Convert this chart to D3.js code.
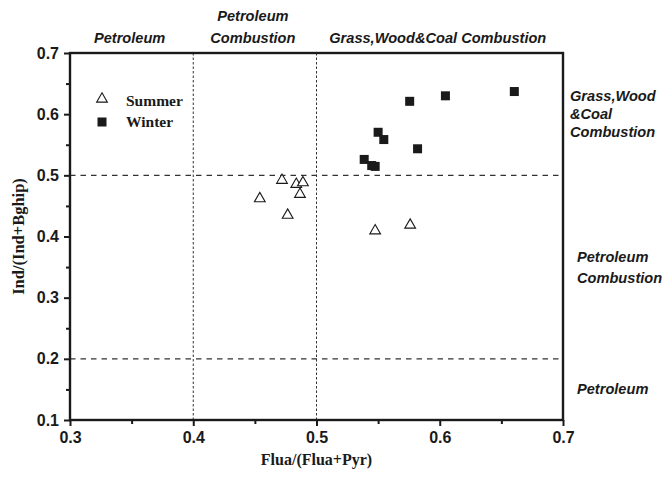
<!DOCTYPE html>
<html>
<head>
<meta charset="utf-8">
<script src="https://cdn.jsdelivr.net/npm/d3@7"></script>
<style>
  body { margin: 0; background: #fff; }
  svg { display: block; }
</style>
</head>
<body>
<svg id="chart"></svg>
<script>
// values
const summerX = [0.454, 0.472, 0.4766, 0.4836, 0.489, 0.4866, 0.5476, 0.576]
const summerY = [0.462, 0.492, 0.435, 0.4854, 0.488, 0.469, 0.4094, 0.4187]
const winterX = [0.5756, 0.6046, 0.6605, 0.55, 0.5546, 0.582, 0.5387, 0.5448, 0.5476]
const winterY = [0.621, 0.630, 0.637, 0.5704, 0.5585, 0.5434, 0.526, 0.516, 0.5146]

const xTicks = [0.3, 0.4, 0.5, 0.6, 0.7]
const yTicks = [0.1, 0.2, 0.3, 0.4, 0.5, 0.6, 0.7]
const xMinor = [0.35, 0.45, 0.55, 0.65]
const yMinor = [0.15, 0.25, 0.35, 0.45, 0.55, 0.65]

const xCuts = [0.4, 0.5]
const yCuts = [0.2, 0.5]

const seriesNames = ['Summer', 'Winter']
const xTitle = 'Flua/(Flua+Pyr)'
const yTitle = 'Ind/(Ind+Bghip)'

// top region labels (x ranges) and right region labels (y ranges)
const topRegions = [
  { from: 0.3, to: 0.4, lines: ['Petroleum'] },
  { from: 0.4, to: 0.5, lines: ['Petroleum', 'Combustion'] },
  { from: 0.5, to: 0.7, lines: ['Grass,Wood&Coal Combustion'] }
]
const rightRegions = [
  { from: 0.5, to: 0.7, lines: ['Grass,Wood', '&Coal', 'Combustion'] },
  { from: 0.2, to: 0.5, lines: ['Petroleum', 'Combustion'] },
  { from: 0.1, to: 0.2, lines: ['Petroleum'] }
]

const width = 666
const height = 477
const margin = { top: 53, right: 103, bottom: 57, left: 70 }
const ink = '#1a1a1a'
const sansFont = '"Liberation Sans", Arial, sans-serif'
const serifFont = '"Liberation Serif", "Times New Roman", serif'

const svg = d3.select('#chart')
  .attr('width', width)
  .attr('height', height)

const xScale = d3.scaleLinear()
  .domain([0.3, 0.7])
  .range([margin.left, width - margin.right])
const yScale = d3.scaleLinear()
  .domain([0.1, 0.7])
  .range([height - margin.bottom, margin.top])

// region divider lines
svg.append('g')
  .selectAll('line')
  .data(xCuts)
  .enter()
  .append('line')
  .attr('x1', d => xScale(d))
  .attr('x2', d => xScale(d))
  .attr('y1', yScale(0.7))
  .attr('y2', yScale(0.1))
  .attr('stroke', '#333')
  .attr('stroke-width', 1)
  .attr('stroke-dasharray', '2.5,2')

svg.append('g')
  .selectAll('line')
  .data(yCuts)
  .enter()
  .append('line')
  .attr('x1', xScale(0.3))
  .attr('x2', xScale(0.7))
  .attr('y1', d => yScale(d))
  .attr('y2', d => yScale(d))
  .attr('stroke', '#333')
  .attr('stroke-width', 1.3)
  .attr('stroke-dasharray', '5.5,5')

// axes
const styleAxis = (g) => {
  g.select('.domain').remove()
  g.selectAll('.tick line').attr('stroke', ink).attr('stroke-width', 2)
  g.selectAll('.tick text')
    .attr('fill', ink)
    .style('font-family', sansFont)
    .style('font-weight', 'bold')
    .style('font-size', '16px')
}

svg.append('g')
  .attr('transform', 'translate(0,' + yScale(0.1) + ')')
  .call(d3.axisBottom(xScale).tickValues(xTicks).tickSize(6).tickPadding(6).tickFormat(d3.format('.1f')))
  .call(styleAxis)

svg.append('g')
  .attr('transform', 'translate(0,' + yScale(0.1) + ')')
  .call(d3.axisBottom(xScale).tickValues(xMinor).tickSize(4).tickFormat(''))
  .call(styleAxis)

svg.append('g')
  .attr('transform', 'translate(' + xScale(0.3) + ',0)')
  .call(d3.axisLeft(yScale).tickValues(yTicks).tickSize(6).tickPadding(5).tickFormat(d3.format('.1f')))
  .call(styleAxis)

svg.append('g')
  .attr('transform', 'translate(' + xScale(0.3) + ',0)')
  .call(d3.axisLeft(yScale).tickValues(yMinor).tickSize(4).tickFormat(''))
  .call(styleAxis)

// frame
svg.append('rect')
  .attr('x', xScale(0.3))
  .attr('y', yScale(0.7))
  .attr('width', xScale(0.7) - xScale(0.3))
  .attr('height', yScale(0.1) - yScale(0.7))
  .attr('fill', 'none')
  .attr('stroke', ink)
  .attr('stroke-width', 2.4)

// points
const summer = summerX.map((x, i) => ({ x: x, y: summerY[i] }))
const winter = winterX.map((x, i) => ({ x: x, y: winterY[i] }))

const triangle = d3.symbol().type(d3.symbolTriangle).size(50)

svg.append('g')
  .selectAll('path')
  .data(summer)
  .enter()
  .append('path')
  .attr('d', triangle)
  .attr('transform', d => 'translate(' + xScale(d.x) + ',' + yScale(d.y) + ')')
  .attr('fill', '#fff')
  .attr('stroke', ink)
  .attr('stroke-width', 1.1)

const sq = 9
svg.append('g')
  .selectAll('rect')
  .data(winter)
  .enter()
  .append('rect')
  .attr('x', d => xScale(d.x) - sq / 2)
  .attr('y', d => yScale(d.y) - sq / 2)
  .attr('width', sq)
  .attr('height', sq)
  .attr('fill', ink)

// legend
const legend = svg.append('g').attr('transform', 'translate(102,99)')
legend.append('path')
  .attr('d', triangle)
  .attr('fill', '#fff')
  .attr('stroke', ink)
  .attr('stroke-width', 1.1)
legend.append('rect')
  .attr('x', -4.5)
  .attr('y', 23 - 4.5)
  .attr('width', 9)
  .attr('height', 9)
  .attr('fill', ink)
legend.selectAll('text')
  .data(seriesNames)
  .enter()
  .append('text')
  .attr('x', 24)
  .attr('y', (d, i) => 7 + i * 21)
  .attr('fill', ink)
  .style('font-family', serifFont)
  .style('font-weight', 'bold')
  .style('font-size', '15.5px')
  .text(d => d)

// region labels
const labelStyle = (sel) => sel
  .attr('fill', ink)
  .style('font-family', sansFont)
  .style('font-weight', 'bold')
  .style('font-style', 'italic')
  .style('font-size', '14.6px')

topRegions.forEach((r) => {
  const cx = (xScale(r.from) + xScale(r.to)) / 2 - 2
  const n = r.lines.length
  r.lines.forEach((line, i) => {
    svg.append('text')
      .attr('x', cx)
      .attr('y', 43 - (n - 1 - i) * 22)
      .attr('text-anchor', 'middle')
      .call(labelStyle)
      .text(line)
  })
})

rightRegions.forEach((r, k) => {
  const cy = (yScale(r.from) + yScale(r.to)) / 2
  const n = r.lines.length
  const step = n > 2 ? 18 : 21
  const left = k === 0 ? xScale(0.7) + 7 : xScale(0.7) + 14
  r.lines.forEach((line, i) => {
    svg.append('text')
      .attr('x', left)
      .attr('y', cy + 5 + (i - (n - 1) / 2) * step)
      .call(labelStyle)
      .text(line)
  })
})

// axis titles
svg.append('text')
  .attr('x', (xScale(0.3) + xScale(0.7)) / 2)
  .attr('y', 465)
  .attr('text-anchor', 'middle')
  .attr('fill', ink)
  .style('font-family', serifFont)
  .style('font-weight', 'bold')
  .style('font-size', '16px')
  .text(xTitle)

svg.append('text')
  .attr('transform', 'translate(24,' + ((yScale(0.1) + yScale(0.7)) / 2) + ') rotate(-90)')
  .attr('text-anchor', 'middle')
  .attr('fill', ink)
  .style('font-family', serifFont)
  .style('font-weight', 'bold')
  .style('font-size', '16.5px')
  .text(yTitle)
</script>
</body>
</html>
